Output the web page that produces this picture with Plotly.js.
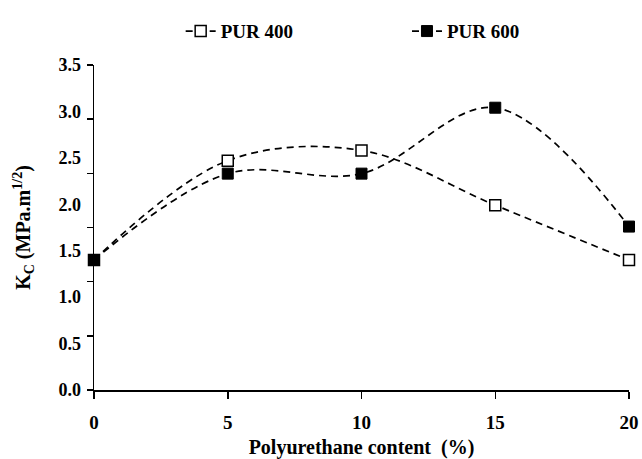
<!DOCTYPE html>
<html>
<head>
<meta charset="utf-8">
<script src="https://cdn.plot.ly/plotly-3.0.1.min.js"></script>
<style>html,body{margin:0;padding:0;background:#fff;}#chart{width:642px;height:459px;}</style>
</head>
<body>
<div id="chart"></div>
<script>
// Data
const pur_content = [0, 5, 10, 15, 20];
const pur400 = [1.40, 2.47, 2.58, 1.99, 1.40];
const pur600 = [1.40, 2.33, 2.33, 3.04, 1.76];
const yTickVals = [0, 0.5, 1.0, 1.5, 2.0, 2.5, 3.0, 3.5];
const yTickText = ['0.0', '0.5', '1.0', '1.5', '2.0', '2.5', '3.0', '3.5'];
// tick marks in the original are at 6 equal divisions of the axis
const yTickMarks = [0, 3.5/6, 7/6, 1.75, 14/6, 17.5/6, 3.5];
const xTickVals = [0, 5, 10, 15, 20];

const serif = 'Liberation Serif, Times New Roman, serif';
const dashStyle = '7px,5px';

const traces = [
  {
    x: pur_content, y: pur400, name: 'PUR 400', type: 'scatter', mode: 'lines+markers',
    line: {color: '#000', width: 1.7, dash: dashStyle, shape: 'spline', smoothing: 1},
    marker: {symbol: 'square', size: 11, color: '#fff', line: {color: '#000', width: 1.5}},
    cliponaxis: false, legend: 'legend'
  },
  {
    x: pur_content, y: pur600, name: 'PUR 600', type: 'scatter', mode: 'lines+markers',
    line: {color: '#000', width: 1.7, dash: dashStyle, shape: 'spline', smoothing: 1},
    marker: {symbol: 'square', size: 11, color: '#000', line: {color: '#000', width: 1}},
    cliponaxis: false, legend: 'legend2'
  },
  {
    x: [], y: [], yaxis: 'y2', showlegend: false, hoverinfo: 'skip', type: 'scatter', mode: 'markers'
  }
];

const legendFont = {family: serif, size: 19, color: '#000', weight: 'bold'};
const layout = {
  width: 642, height: 459,
  margin: {l: 94, r: 13, t: 55, b: 69},
  paper_bgcolor: '#fff', plot_bgcolor: '#fff',
  font: {family: serif, color: '#000', size: 18},
  showlegend: true,
  legend: {
    orientation: 'h', x: 0.162, xanchor: 'left', y: 1.104, yanchor: 'middle',
    font: legendFont, itemwidth: 30, bgcolor: 'rgba(0,0,0,0)'
  },
  legend2: {
    orientation: 'h', x: 0.585, xanchor: 'left', y: 1.104, yanchor: 'middle',
    font: legendFont, itemwidth: 30, bgcolor: 'rgba(0,0,0,0)'
  },
  xaxis: {
    range: [0, 20], tickvals: xTickVals, ticktext: xTickVals.map(String),
    showgrid: false, zeroline: false, showline: true, linecolor: '#000', linewidth: 1.5,
    ticks: 'outside', ticklen: 7, tickwidth: 1.5, tickcolor: '#000',
    ticklabelstandoff: 8,
    tickfont: {family: serif, size: 19, weight: 'bold'},
    title: {text: 'Polyurethane content  (%)', font: {family: serif, size: 20, weight: 'bold'}, standoff: 8},
    fixedrange: true
  },
  yaxis: {
    range: [0, 3.5], tickvals: yTickVals, ticktext: yTickText,
    showgrid: false, zeroline: false, showline: true, linecolor: '#000', linewidth: 1.5,
    ticks: '', ticklabelstandoff: 8,
    tickfont: {family: serif, size: 18, weight: 'bold'},
    title: {text: 'K<sub>C</sub> (MPa.m<sup>1/2</sup>)', font: {family: serif, size: 20, weight: 'bold'}, standoff: 22},
    fixedrange: true
  },
  yaxis2: {
    range: [0, 3.5], overlaying: 'y', side: 'left', anchor: 'x',
    tickvals: yTickMarks, showticklabels: false,
    ticks: 'outside', ticklen: 6, tickwidth: 1.5, tickcolor: '#000',
    showgrid: false, zeroline: false, showline: false, fixedrange: true
  }
};

Plotly.newPlot('chart', traces, layout, {displayModeBar: false, staticPlot: true});
</script>
</body>
</html>
